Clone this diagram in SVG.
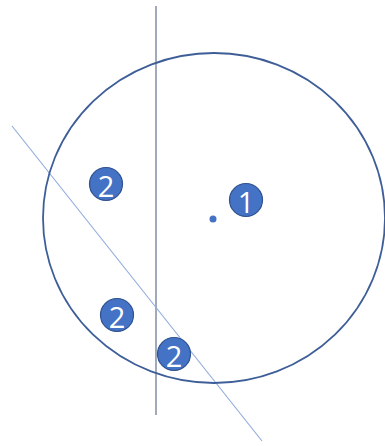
<svg xmlns="http://www.w3.org/2000/svg" width="385" height="446" viewBox="0 0 385 446">
<style>
.badge circle{fill:#4472c4;stroke:#2f528f;stroke-width:1.2}
.badge text{fill:#fff;font-family:"Open Sans","Liberation Sans",sans-serif;font-size:29px;text-anchor:middle;dominant-baseline:central}
</style>
<rect width="385" height="446" fill="#fff"/>
<g id="connectors">
<line x1="156" y1="6" x2="156" y2="415" stroke="#8a95aa" stroke-width="1.6"/>
<line x1="12" y1="126" x2="262" y2="441" stroke="#8eaadc" stroke-width="1.1"/>
</g>
<g id="circle">
<ellipse cx="214" cy="218" rx="171" ry="165" fill="none" stroke="#3e5e98" stroke-width="1.8"/>
<circle cx="213" cy="219" r="3.5" fill="#4472c4"/>
</g>
<g id="badge1" class="badge"><circle cx="246" cy="200" r="16.5"/><text x="246" y="201">1</text></g>
<g id="badge2a" class="badge"><circle cx="106" cy="184" r="16.5"/><text x="106" y="185">2</text></g>
<g id="badge2b" class="badge"><circle cx="117" cy="315" r="16.5"/><text x="117" y="316">2</text></g>
<g id="badge2c" class="badge"><circle cx="174" cy="354" r="16.5"/><text x="174" y="355">2</text></g>
</svg>
